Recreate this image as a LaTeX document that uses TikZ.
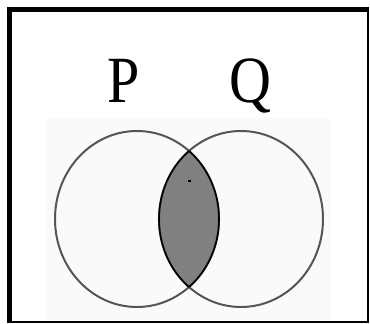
\documentclass[tikz,border=0pt]{standalone}
\usepackage{fontspec}
\newfontfamily\lblfont{Liberation Serif}
\definecolor{bgcol}{HTML}{FAFAFA}
\definecolor{ringcol}{HTML}{555555}
\definecolor{lenscol}{HTML}{808080}
\tikzset{
  ring/.style={draw=ringcol, line width=2pt},
  lensedge/.style={draw=black, line width=1.6pt},
  setlabel/.style={anchor=base, inner sep=0pt, font=\lblfont\fontsize{66}{66}\selectfont, xscale=0.88}
}
\begin{document}
\begin{tikzpicture}[x=1pt,y=-1pt]
\useasboundingbox (0,0) rectangle (370,324);
\fill[white] (0,0) rectangle (370,324);
\fill[bgcol] (46,118) rectangle (331,320);
% frame
\draw[line width=4.5pt] (369,9.25) -- (9.25,9.25) -- (9.25,323);
\draw[line width=2.5pt] (367.75,7) -- (367.75,321.75) -- (7,321.75);
\coordinate (cP) at (137,219);
\coordinate (cQ) at (241,219);
% lens fill
\begin{scope}
  \clip (cP) ellipse [x radius=82, y radius=88];
  \fill[lenscol] (cQ) ellipse [x radius=82, y radius=88];
\end{scope}
% circles
\draw[ring] (cP) ellipse [x radius=82, y radius=88];
\draw[ring] (cQ) ellipse [x radius=82, y radius=88];
% lens outline
\begin{scope}
  \clip (cP) ellipse [x radius=82, y radius=88];
  \draw[lensedge] (cQ) ellipse [x radius=82, y radius=88];
\end{scope}
\begin{scope}
  \clip (cQ) ellipse [x radius=82, y radius=88];
  \draw[lensedge] (cP) ellipse [x radius=82, y radius=88];
\end{scope}
% dot
\fill[black] (187.5,180) rectangle (190.5,182);
% labels
\node[setlabel] (lP) at (124,102) {P};
\node[setlabel] (lQ) at (250,102) {Q};
\end{tikzpicture}
\end{document}
